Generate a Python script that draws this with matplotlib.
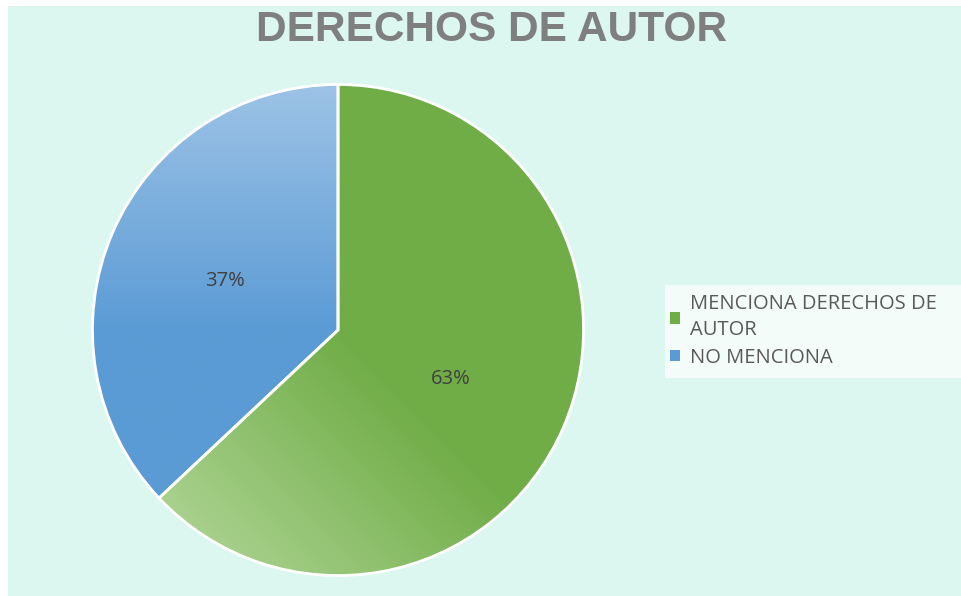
import matplotlib
matplotlib.use("Agg")
import matplotlib.pyplot as plt
import numpy as np
from matplotlib.colors import LinearSegmentedColormap
from matplotlib.patches import Rectangle, Patch

categories = ["MENCIONA DERECHOS DE\nAUTOR", "NO MENCIONA"]
values = [63, 37]
labels_pct = ["63%", "37%"]
base_colors = ["#70ad47", "#5b9bd5"]
light_colors = ["#a9d18e", "#9dc3e6"]

W, H = 961, 596
fig = plt.figure(figsize=(W/100, H/100), dpi=100)
fig.patch.set_facecolor("white")
bg = Rectangle((8/W, 0), 1 - 8/W, 1 - 6/H, transform=fig.transFigure,
               facecolor="#dcf7f0", edgecolor="none", zorder=-10)
fig.add_artist(bg)
fig.add_artist(Rectangle((665/W, 1 - 378/H), (961 - 665)/W, 93/H, transform=fig.transFigure,
                         facecolor="#f3fcf9", edgecolor="none", zorder=-5))

cx, cy, r = 338, 330, 248
ax = fig.add_axes([(cx - r)/W, (H - cy - r)/H, 2*r/W, 2*r/H])
ax.set_zorder(1)
ax.set_aspect("equal")
ax.axis("off")

wedges, texts = ax.pie(values, startangle=90, counterclock=False, radius=1,
                       colors=base_colors,
                       wedgeprops=dict(edgecolor="white", linewidth=2))
ax.set_xlim(-1.01, 1.01); ax.set_ylim(-1.01, 1.01)

yy, xx = np.mgrid[1:-1:400j, -1:1:400j]
tg = np.clip(0.5 - (xx + yy) * 0.35, 0, 1)
cmap_g = LinearSegmentedColormap.from_list("g", [base_colors[0], base_colors[0], light_colors[0]])
im = ax.imshow(tg, extent=[-1, 1, -1, 1], cmap=cmap_g, vmin=0, vmax=1, zorder=1.5)
im.set_clip_path(wedges[0])
tb = np.clip(yy, 0, 1)
cmap_b = LinearSegmentedColormap.from_list("b", [base_colors[1], light_colors[1]])
im2 = ax.imshow(tb, extent=[-1, 1, -1, 1], cmap=cmap_b, vmin=0, vmax=1, zorder=1.5)
im2.set_clip_path(wedges[1])
for w in wedges:
    w.set_zorder(2)
    w.set_facecolor("none")

ang = 90.0
for v, lab in zip(values, labels_pct):
    mid = np.deg2rad(ang - v * 3.6 / 2)
    ang -= v * 3.6
    ax.text(0.5 * np.cos(mid), 0.5 * np.sin(mid), lab, ha="center", va="center",
            fontsize=14.5, color="#404040", family=["Open Sans", "DejaVu Sans"], zorder=3)

fig.text(492/W, 1 - 30/H, "DERECHOS DE AUTOR", ha="center", va="center",
         fontsize=30.5, fontweight="bold", color="#7f7f7f",
         family=["Liberation Sans", "DejaVu Sans"])

handles = [Patch(facecolor=c, edgecolor="none") for c in base_colors]
leg = fig.legend(handles, categories, loc="center left",
                 bbox_to_anchor=(667/W, 1 - 331/H), frameon=False,
                 prop=dict(family=["Open Sans", "DejaVu Sans"], size=14.5),
                 handlelength=0.5, handleheight=0.5, handletextpad=0.5,
                 labelcolor="#595959", borderpad=0.15, borderaxespad=0,
                 labelspacing=0.35)
for t in leg.get_texts():
    t.set_linespacing(1.4)

fig.savefig("out.png", dpi=100)
